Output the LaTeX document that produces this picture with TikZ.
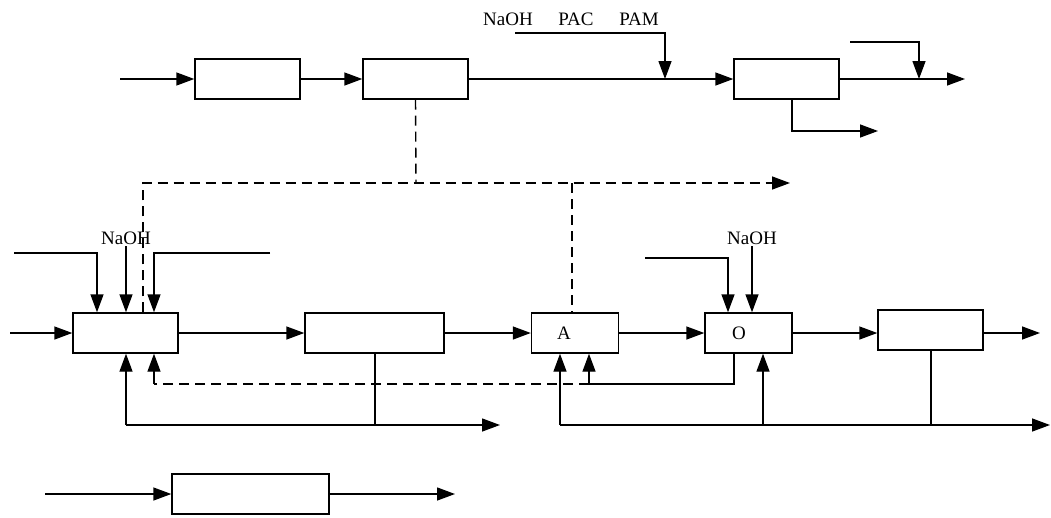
\documentclass[tikz,border=0pt]{standalone}
\usepackage{fontspec}
\setmainfont{Liberation Serif}
\usetikzlibrary{arrows.meta}
\begin{document}
\begin{tikzpicture}[x=1pt,y=-1pt,
  box/.style={draw, line width=1.4pt, minimum height=40pt, inner sep=0pt},
  ln/.style={line width=1.4pt},
  flow/.style={ln, -{Triangle[length=18pt,width=13pt]}},
  dsh/.style={line width=1.4pt, dash pattern=on 10pt off 6pt},
  lbl/.style={font=\fontsize{19}{21}\selectfont, inner sep=0pt}]
\useasboundingbox (0,0) rectangle (1051,517);
% boxes
\node[box, minimum width=105pt] (t1) at (247.5,79) {};
\node[box, minimum width=105pt] (t2) at (415.5,79) {};
\node[box, minimum width=105pt] (t3) at (786.5,79) {};
\node[box, minimum width=105pt] (m1) at (125.5,333) {};
\node[box, minimum width=139pt] (m2) at (374.5,333) {};
\node[box, minimum width=87pt] (mA) at (575,333) {};
\node[box, minimum width=87pt] (mO) at (748.5,333) {};
\node[box, minimum width=105pt] (mR) at (930.5,330) {};
\node[box, minimum width=157pt] (b1) at (250.5,494) {};
\node[lbl] (la) at (564,333) {A};
\node[lbl] (lo) at (739,333) {O};
% labels
\node[lbl] (n1) at (508,19) {NaOH};
\node[lbl] (n2) at (576,19) {PAC};
\node[lbl] (n3) at (639,19) {PAM};
\node[lbl] (n4) at (126,238) {NaOH};
\node[lbl] (n5) at (752,238) {NaOH};
% coordinates
\coordinate (i1) at (120,79);
\coordinate (c1) at (515,33);
\coordinate (j1) at (665,79);
\coordinate (o1) at (965,79);
\coordinate (c2) at (850,42);
\coordinate (j2) at (919,79);
\coordinate (o2) at (878,131);
\coordinate (d1) at (416,183);
\coordinate (d2) at (790,183);
\coordinate (d3) at (572,183);
\coordinate (i2) at (10,333);
\coordinate (c3) at (14,253);
\coordinate (c4) at (126,246);
\coordinate (c5) at (270,253);
\coordinate (o3) at (1040,333);
\coordinate (c6) at (645,258);
\coordinate (c7) at (752,246);
\coordinate (r1) at (589,384);
\coordinate (r2) at (154,384);
\coordinate (b0) at (126,425);
\coordinate (b2) at (375,425);
\coordinate (o4) at (500,425);
\coordinate (b3) at (560,425);
\coordinate (b4) at (763,425);
\coordinate (b5) at (931,425);
\coordinate (o5) at (1050,425);
\coordinate (i3) at (45,494);
\coordinate (o6) at (455,494);
% top row
\draw[flow] (i1) -- (t1.west);
\draw[flow] (t1.east) -- (t2.west);
\draw[flow] (t2.east) -- (t3.west);
\draw[flow] (c1) -| (j1);
\draw[flow] (t3.east) -- (o1);
\draw[flow] (c2) -| (j2);
\draw[flow] ([xshift=5.5pt]t3.south) |- (o2);
% dashed links
\draw[dsh] (t2.south) -- (d1);
\draw[dsh, -{Triangle[length=18pt,width=13pt]}] ([xshift=17.5pt]m1.north) |- (d2);
\draw[dsh] (d3) -- ([xshift=-3pt]mA.north);
% middle row
\draw[flow] (i2) -- (m1.west);
\draw[flow] (c3) -| ([xshift=-28.5pt]m1.north);
\draw[flow] (c4) -- ([xshift=0.5pt]m1.north);
\draw[flow] (c5) -| ([xshift=28.5pt]m1.north);
\draw[flow] (m1.east) -- (m2.west);
\draw[flow] (m2.east) -- (mA.west);
\draw[flow] (mA.east) -- (mO.west);
\draw[flow] (mO.east) -- (mO.east -| mR.west);
\draw[flow] (mO.east -| mR.east) -- (o3);
\draw[flow] (c6) -| ([xshift=-20.5pt]mO.north);
\draw[flow] (c7) -- ([xshift=3.5pt]mO.north);
% recycle
\draw[ln] ([xshift=-14.5pt]mO.south) |- (r1);
\draw[flow] (r1) -- ([xshift=14pt]mA.south);
\draw[dsh] (r1) -- (r2);
\draw[flow] (r2) -- ([xshift=28.5pt]m1.south);
% bottom lines
\draw[ln] ([xshift=0.5pt]m2.south) -- (b2);
\draw[flow] (b0) -- (o4);
\draw[flow] (b0) -- ([xshift=0.5pt]m1.south);
\draw[flow] (b3) -- (o5);
\draw[flow] (b3) -- ([xshift=-15pt]mA.south);
\draw[flow] (b4) -- ([xshift=14.5pt]mO.south);
\draw[ln] ([xshift=0.5pt]mR.south) -- (b5);
% bottom row
\draw[flow] (i3) -- (b1.west);
\draw[flow] (b1.east) -- (o6);
\end{tikzpicture}
\end{document}
